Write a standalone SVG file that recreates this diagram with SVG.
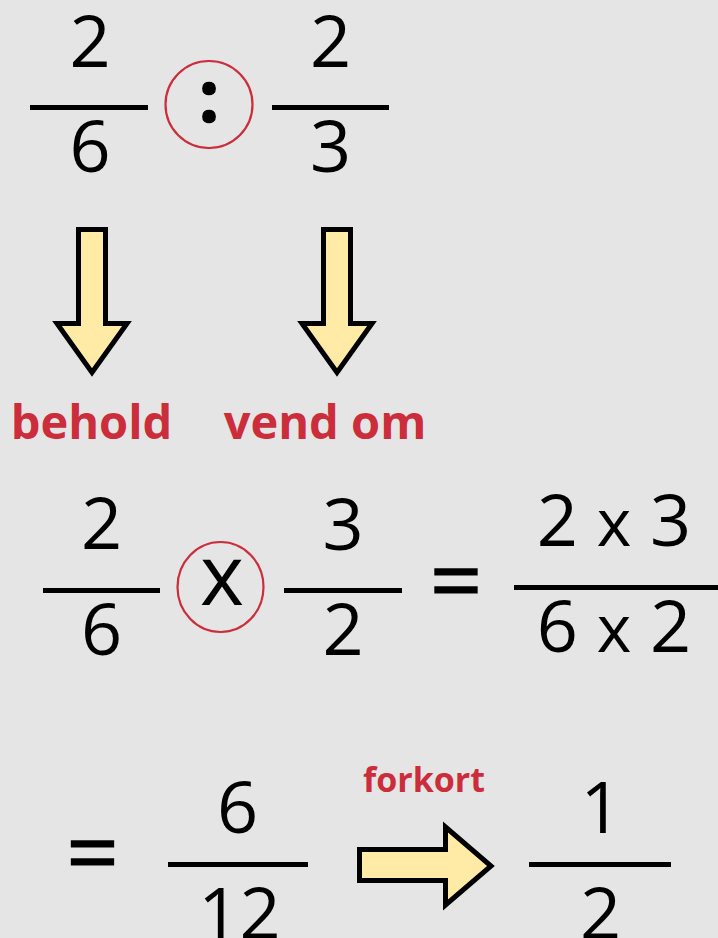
<svg xmlns="http://www.w3.org/2000/svg" width="718" height="938" viewBox="0 0 718 938">
<style>
.n{font-family:"Open Sans","Liberation Sans",sans-serif;font-size:72px;fill:#000;text-anchor:middle}
.lbl{font-family:"Open Sans","Liberation Sans",sans-serif;font-weight:bold;fill:#CC2D3B;text-anchor:middle}
.bar{stroke:#000;stroke-width:5;fill:none}
.ring{stroke:#CC2D3B;stroke-width:2.2;fill:none}
.arr{fill:#FFEAA6;stroke:#000;stroke-width:5;stroke-linejoin:miter}
.eq{font-size:92px;stroke:#000;stroke-width:1.2}
.sx{font-size:66px}
</style>
<rect width="718" height="938" fill="#E5E5E5"/>
<g id="frac-2-6-top">
<text class="n" x="90" y="67">2</text>
<line class="bar" x1="30" y1="107.5" x2="148" y2="107.5"/>
<text class="n" x="90" y="172">6</text>
</g>
<g id="divide-op">
<circle class="ring" cx="209" cy="104.5" r="43.5"/>
<text class="n" x="209" y="122" style="font-weight:bold;stroke:#000;stroke-width:1.5">:</text>
</g>
<g id="frac-2-3-top">
<text class="n" x="330.5" y="67">2</text>
<line class="bar" x1="272" y1="107.5" x2="389" y2="107.5"/>
<text class="n" x="330.5" y="172">3</text>
</g>
<g id="connectors">
<path class="arr" d="M78.5,229.5 H105.5 V323.5 H127 L92,372.5 L57,323.5 H78.5 Z"/>
<path class="arr" d="M323.5,229.5 H350.5 V323.5 H372 L337,372.5 L302,323.5 H323.5 Z"/>
<path class="arr" d="M359.5,849.5 H445.5 V827 L491,866 L445.5,905 V880.5 H359.5 Z"/>
</g>
<g id="label-behold"><text class="lbl" x="91.5" y="439" font-size="47">behold</text></g>
<g id="label-vend-om"><text class="lbl" x="325" y="439" font-size="47">vend om</text></g>
<g id="frac-2-6-mid">
<text class="n" x="101.5" y="549">2</text>
<line class="bar" x1="43" y1="590.5" x2="160" y2="590.5"/>
<text class="n" x="101.5" y="655">6</text>
</g>
<g id="times-op">
<ellipse class="ring" cx="220.5" cy="587" rx="43" ry="45"/>
<text class="n" x="222" y="605" style="font-size:84px">x</text>
</g>
<g id="frac-3-2-mid">
<text class="n" x="343" y="550">3</text>
<line class="bar" x1="284" y1="590.5" x2="402" y2="590.5"/>
<text class="n" x="343" y="655">2</text>
</g>
<g id="equals-1"><text class="n eq" x="456" y="613">=</text></g>
<g id="frac-product">
<text class="n" x="614" y="546">2 <tspan class="sx">x</tspan> 3</text>
<line class="bar" x1="514" y1="587.5" x2="720" y2="587.5"/>
<text class="n" x="614" y="652">6 <tspan class="sx">x</tspan> 2</text>
</g>
<g id="equals-2"><text class="n eq" x="92.5" y="885">=</text></g>
<g id="frac-6-12">
<text class="n" x="237.5" y="833">6</text>
<line class="bar" x1="168" y1="864.5" x2="308" y2="864.5"/>
<text class="n" x="239.5" y="939">12</text>
</g>
<g id="label-forkort"><text class="lbl" x="424" y="792" font-size="34">forkort</text></g>
<g id="frac-1-2">
<text class="n" x="601" y="833">1</text>
<line class="bar" x1="529" y1="864.5" x2="671" y2="864.5"/>
<text class="n" x="600.5" y="939">2</text>
</g>
</svg>
